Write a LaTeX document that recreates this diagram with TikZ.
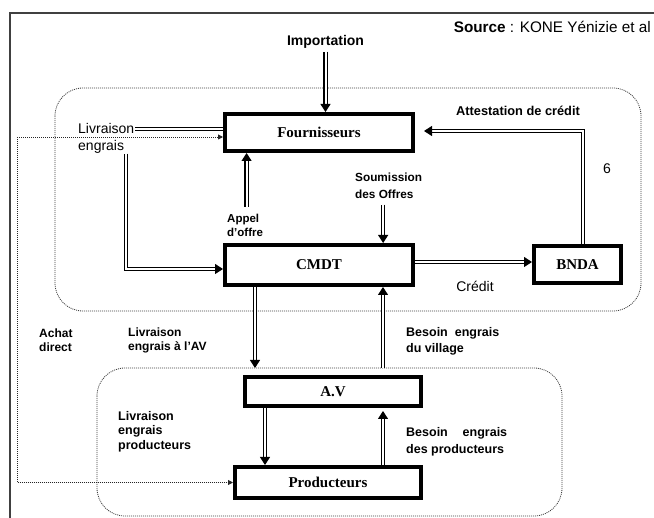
\documentclass[tikz,border=0pt]{standalone}
\usepackage{fontspec}
\setmainfont{Liberation Serif}
\newfontfamily\arialfont{Liberation Sans}
\usetikzlibrary{arrows.meta}

\begin{document}
\begin{tikzpicture}[x=1pt,y=-1pt,
  blockbox/.style={draw, line width=4pt, inner sep=0pt, font=\bfseries\fontsize{15}{18}\selectfont},
  flow/.style={draw, double, double distance=2pt, line width=1.1pt, -{Triangle[length=8pt,width=10pt]}},
  plainflow/.style={draw, double, double distance=2pt, line width=1.1pt},
  direct/.style={draw=black!85, dash pattern=on 1pt off 1pt, line width=0.9pt, -{Triangle[length=5pt,width=5pt]}},
  zone/.style={draw=black!75, dash pattern=on 1pt off 1pt, line width=0.8pt, rounded corners=28pt},
  tag/.style={font=\arialfont\bfseries\fontsize{12}{14}\selectfont, align=left, inner sep=0pt, anchor=west},
  note/.style={font=\arialfont\fontsize{14}{18}\selectfont, align=left, inner sep=0pt},
]
\useasboundingbox (0,0) rectangle (654,518);
\fill[white] (0,0) rectangle (654,518);

% page frame
\draw[black!75, line width=1.3pt] (10,518) -- (10,13) -- (654,13);

% the two zones
\draw[zone] (55,88) rectangle (641,311);
\draw[zone] (97,368) rectangle (562,516);

% actors
\node[blockbox, minimum width=188pt, minimum height=37pt] (four) at (319,132.5) {Fournisseurs};
\node[blockbox, minimum width=188pt, minimum height=40pt] (cmdt) at (319,265) {CMDT};
\node[blockbox, minimum width=87pt, minimum height=37pt] (bnda) at (577.5,264.5) {BNDA};
\node[blockbox, minimum width=176pt, minimum height=29pt] (av) at (333,391.5) {A.V};
\node[blockbox, minimum width=186pt, minimum height=31pt] (prod) at (328,482.5) {Producteurs};

% texts
\node[inner sep=0pt, anchor=east, font=\arialfont\fontsize{15.3}{18}\selectfont] (src) at (651,27) {\textbf{Source} : KONE Yénizie et al};
\node[inner sep=0pt, font=\arialfont\bfseries\fontsize{14}{16}\selectfont] (imp) at (325.5,42) {Importation};
\node[inner sep=0pt, font=\arialfont\bfseries\fontsize{12.8}{15}\selectfont] (att) at (518,111) {Attestation de crédit};
\node[note] (six) at (607,169) {6};
\node[note] (cred) at (475,286) {Crédit};
\node[note, anchor=west] (livA) at (78,129) {Livraison};
\node[note, anchor=west] (livB) at (78,147) {engrais};
\node[tag, font=\arialfont\bfseries\fontsize{11.5}{14}\selectfont] (appel) at (227,225) {Appel\\d’offre};
\node[tag, font=\arialfont\bfseries\fontsize{11.8}{17}\selectfont] (soum) at (355,185.5) {Soumission\\des Offres};
\node[tag] (achat) at (39,340) {Achat\\direct};
\node[tag] (livav) at (128,340) {Livraison\\engrais à l’AV};
\node[tag, font=\arialfont\bfseries\fontsize{12.5}{16}\selectfont] (besv) at (406,341) {Besoin\ \ engrais\\du village};
\node[tag, font=\arialfont\bfseries\fontsize{12.5}{14.5}\selectfont] (livp) at (118,431.5) {Livraison\\engrais\\producteurs};
\node[tag, font=\arialfont\bfseries\fontsize{12.5}{17}\selectfont] (besp) at (406,441.5) {\hbox to 101pt{Besoin\hfill engrais}\\des producteurs};

% flows inside the upper zone
\draw[flow, shorten <=3pt] (imp.south) -- (four.north -| imp.south);
\draw[plainflow] (livA.east -| four.west) -- ([xshift=1pt]livA.east);
\draw[flow] ([xshift=2pt]livB.south east) |- ([yshift=-4pt]cmdt.west);
\coordinate (ao) at ([xshift=1.5pt,yshift=7pt]appel.north);
\draw[flow] (ao) -- (ao |- four.south);
\coordinate (so) at ([xshift=-5.5pt]soum.south);
\draw[flow, shorten <=6pt] (so) -- (so |- cmdt.north);
\draw[flow] ([yshift=3pt]cmdt.east) -- ([yshift=3pt]cmdt.east -| bnda.west);
\draw[flow] ([xshift=5.5pt]bnda.north) |- ([xshift=9pt,yshift=1.5pt]four.east);

% direct purchase
\coordinate (ad) at (17,137);
\draw[direct] (ad) -- (ad -| four.west);
\draw[direct] (ad) |- (prod.west);

% flows between the zones
\coordinate (dl) at ([xshift=-64pt]cmdt.south);
\draw[flow, shorten >=7pt] (dl) -- (dl |- av.north);
\coordinate (ur) at ([xshift=50pt,yshift=7pt]av.north);
\draw[flow] (ur) -- (ur |- cmdt.south);

% flows inside the village zone
\coordinate (dv) at ([xshift=-68pt]av.south);
\draw[flow] (dv) -- (dv |- prod.north);
\coordinate (up) at ([xshift=55pt]prod.north);
\draw[flow, shorten >=3pt] (up) -- (up |- av.south);
\end{tikzpicture}
\end{document}
